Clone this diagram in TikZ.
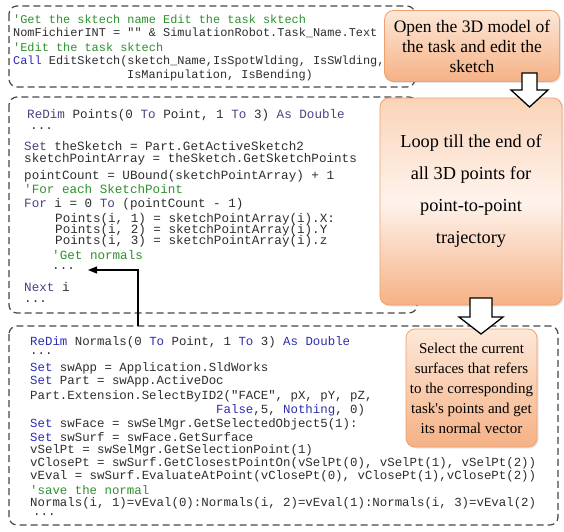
\documentclass[tikz,border=0pt]{standalone}
\usepackage{fontspec}
\setmainfont{Liberation Serif}
\setmonofont{Liberation Mono}
\usetikzlibrary{arrows.meta,shadows}

\definecolor{codetxt}{RGB}{45,45,45}
\definecolor{kwblue}{RGB}{45,45,175}
\definecolor{kwdim}{RGB}{75,65,130}
\definecolor{cmtgreen}{RGB}{45,145,45}
\definecolor{peachL}{RGB}{253,232,216}
\definecolor{peachM}{RGB}{250,212,184}
\definecolor{peachW}{RGB}{254,243,236}
\definecolor{peachD}{RGB}{245,177,133}
\definecolor{peachE}{RGB}{238,160,110}
\definecolor{dashgray}{RGB}{70,70,70}

\newcommand{\kw}[1]{\textcolor{kwblue}{#1}}
\newcommand{\kd}[1]{\textcolor{kwdim}{#1}}
\newcommand{\cmt}[1]{\textcolor{cmtgreen}{#1}}

\tikzset{
  codebox/.style={draw=dashgray, line width=1.2pt, dash pattern=on 7pt off 4pt, rounded corners=8pt},
  codeline/.style={anchor=west, inner sep=0pt, text=codetxt},
  codeA/.style={codeline, font=\ttfamily\fontsize{11.9}{14}\selectfont},
  codeB/.style={codeline, font=\ttfamily\fontsize{12.6}{14}\selectfont},
  codeC/.style={codeline, font=\ttfamily\fontsize{12.4}{14}\selectfont},
  stepnote/.style={draw=peachE, line width=0.8pt, rounded corners=9pt, align=center,
    drop shadow={opacity=0.2, shadow xshift=1.5pt, shadow yshift=-1.5pt}},
  blockarr/.style={draw=black, fill=white, line width=1.3pt, line join=miter},
}

\begin{document}
\begin{tikzpicture}[x=1pt, y=-1pt]
  \useasboundingbox (0,0) rectangle (564,531);

  % dashed code frames
  \draw[codebox] (9,6) rectangle (415,87);
  \draw[codebox] (9,97) rectangle (417,313);
  \draw[codebox] (9,326) rectangle (558,525);

  % sketch name / edit sketch
  \foreach \x/\y/\txt [count=\k] in {
      13/19/{\cmt{'Get the sktech name Edit the task sktech}},
      13/33/{NomFichierINT = "" \& SimulationRobot.Task\_Name.Text},
      13/47/{\cmt{'Edit the task sktech}},
      13/61/{\kw{Call} EditSketch(sketch\_Name,IsSpotWlding, IsSWlding,},
      127/75/{IsManipulation, IsBending)}} {
    \node[codeA] (sk\k) at (\x,\y) {\txt};
  }

  % loop over sketch points
  \foreach \x/\y/\txt [count=\k] in {
      27/115/{\kd{ReDim} Points(0 \kd{To} Point, 1 \kd{To} 3) \kd{As Double}},
      30/129/{...},
      24/146/{\kd{Set} theSketch = Part.GetActiveSketch2},
      24/159/{sketchPointArray = theSketch.GetSketchPoints},
      24/176/{pointCount = UBound(sketchPointArray) + 1},
      24/189/{\cmt{'For each SketchPoint}},
      24/204/{\kd{For} i = 0 \kd{To} (pointCount - 1)},
      55/219/{Points(i, 1) = sketchPointArray(i).X:},
      55/230/{Points(i, 2) = sketchPointArray(i).Y},
      55/241/{Points(i, 3) = sketchPointArray(i).z},
      52/255/{\cmt{'Get normals}},
      52/269/{...},
      24/287/{\kd{Next} i},
      24/302/{...}} {
    \node[codeB] (pt\k) at (\x,\y) {\txt};
  }

  % normals of the surfaces
  \foreach \x/\y/\txt [count=\k] in {
      30/342/{\kw{ReDim} Normals(0 \kw{To} Point, 1 \kw{To} 3) \kw{As Double}},
      30/354/{...},
      30/368/{\kw{Set} swApp = Application.SldWorks},
      30/381/{\kw{Set} Part = swApp.ActiveDoc},
      30/396/{Part.Extension.SelectByID2("FACE", pX, pY, pZ,},
      216/410/{\kw{False},5, \kw{Nothing}, 0)},
      30/424/{\kw{Set} swFace = swSelMgr.GetSelectedObject5(1):},
      30/437/{\kw{Set} swSurf = swFace.GetSurface},
      30/450/{vSelPt = swSelMgr.GetSelectionPoint(1)},
      30/463/{vClosePt = swSurf.GetClosestPointOn(vSelPt(0), vSelPt(1), vSelPt(2))},
      30/476/{vEval = swSurf.EvaluateAtPoint(vClosePt(0), vClosePt(1),vClosePt(2))},
      30/490/{\cmt{'save the normal}},
      30/503/{Normals(i, 1)=vEval(0):Normals(i, 2)=vEval(1):Normals(i, 3)=vEval(2)},
      33/515/{...}} {
    \node[codeC] (nm\k) at (\x,\y) {\txt};
  }

  % back to the loop
  \coordinate (normtop) at (138,326);
  \coordinate (loopin) at (88,270);
  \draw[line width=1.2pt, -{Triangle[length=9pt,width=7pt]}] (normtop) |- (loopin);

  % step boxes
  \node[stepnote, top color=peachL, bottom color=peachD, minimum width=175pt, minimum height=71pt,
        font=\fontsize{17.5}{20}\selectfont] (openmodel) at (472,46)
        {Open the 3D model of\\the task and edit the\\sketch};
  \node[stepnote, top color=peachM, bottom color=peachD, middle color=peachW,
        minimum width=182pt, minimum height=207pt] (looppts) at (471,201.5) {};
  \node[align=center, font=\fontsize{18.3}{32}\selectfont] (looptxt) at (471,191)
        {Loop till the end of\\all 3D points for\\point-to-point\\trajectory};
  \node[stepnote, top color=peachL, bottom color=peachD, minimum width=131pt, minimum height=118pt,
        font=\fontsize{15}{20}\selectfont] (selsurf) at (471.5,388)
        {Select the current\\surfaces that refers\\to the corresponding\\task\textquotesingle s points and get\\its normal vector};

  % hollow arrows between steps
  \draw[blockarr] (522,73) -- (537,73) -- (537,90) -- (548,90) -- (529.5,107) -- (511,90) -- (522,90) -- cycle;
  \draw[blockarr] (470,298) -- (492,298) -- (492,317) -- (503,317) -- (481,334) -- (459,317) -- (470,317) -- cycle;
\end{tikzpicture}
\end{document}
